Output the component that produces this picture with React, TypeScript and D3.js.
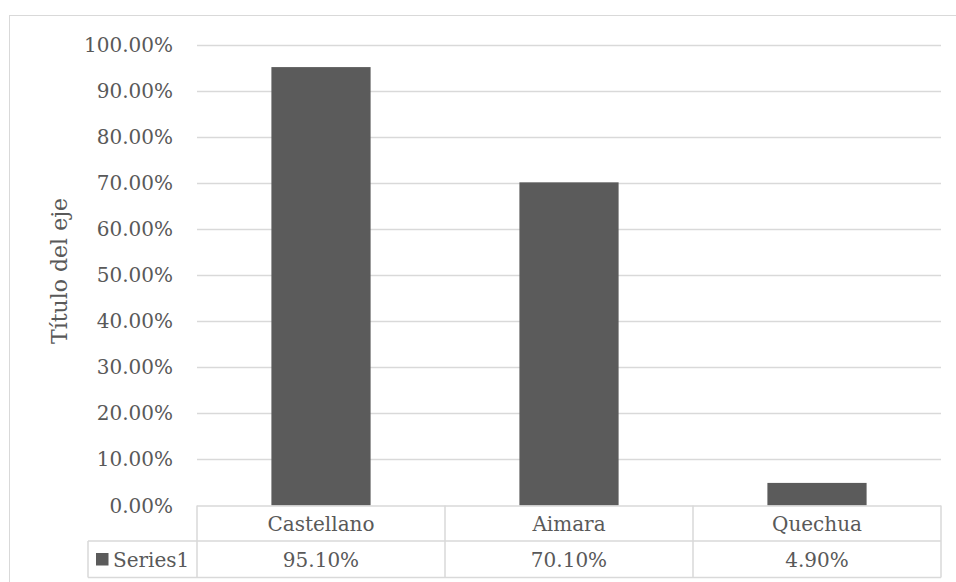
import React from "react";
import * as d3 from "d3";

const categories = ["Castellano", "Aimara", "Quechua"];
const values = [0.951, 0.701, 0.049];
const valueLabels = ["95.10%", "70.10%", "4.90%"];
const yTicks = [0, 0.1, 0.2, 0.3, 0.4, 0.5, 0.6, 0.7, 0.8, 0.9, 1.0];
const seriesName = "Series1";
const axisTitle = "Título del eje";

const W = 956;
const H = 582;
const plotLeft = 197;
const plotRight = 941;
const plotTop = 44.5;
const plotBottom = 505.5;
const row1Bottom = 541;
const row2Bottom = 577.5;
const legendLeft = 88;
const FONT = "'DejaVu Serif', serif";
const TEXT = "#595959";
const GRID = "#d9d9d9";
const BAR = "#5b5b5b";
const FS = 20;

export default function App() {
  const y = d3.scaleLinear().domain([0, 1]).range([plotBottom, plotTop]);
  const x = d3.scaleBand<string>().domain(categories).range([plotLeft, plotRight]).paddingInner(0).paddingOuter(0);
  const bw = x.bandwidth();
  const barW = bw * 0.4;
  const fmt = d3.format(".2%");

  return (
    <svg width={W} height={H} style={{ position: "absolute", left: 0, top: 0, background: "#fff" }} fontFamily={FONT}>
      <rect x={0} y={0} width={W} height={H} fill="#fff" />
      <rect x={9.5} y={15.5} width={W + 20} height={H + 20} fill="none" stroke={GRID} strokeWidth={1} />
      {yTicks.map((t) => (
        <g key={t}>
          {t > 0 && (
            <line x1={plotLeft} x2={plotRight} y1={Math.round(y(t)) + 0.5} y2={Math.round(y(t)) + 0.5} stroke={GRID} strokeWidth={1.5} />
          )}
          <text x={173} y={y(t)} textAnchor="end" dominantBaseline="central" fontSize={FS} fill={TEXT}>
            {fmt(t)}
          </text>
        </g>
      ))}
      {categories.map((c, i) => (
        <rect key={c} x={x(c)! + (bw - barW) / 2} width={barW} y={y(values[i])} height={plotBottom - y(values[i])} fill={BAR} />
      ))}
      <g stroke={GRID} strokeWidth={1.5} fill="none">
        <line x1={plotLeft} x2={plotRight} y1={plotBottom + 0.5} y2={plotBottom + 0.5} />
        <line x1={legendLeft} x2={plotRight} y1={row1Bottom} y2={row1Bottom} />
        <line x1={legendLeft} x2={plotRight} y1={row2Bottom} y2={row2Bottom} />
        <line x1={legendLeft} x2={legendLeft} y1={row1Bottom} y2={row2Bottom} />
        {[...categories.map((c) => x(c)!), plotRight].map((xx, i) => (
          <line key={i} x1={xx} x2={xx} y1={plotBottom} y2={row2Bottom} />
        ))}
      </g>
      {categories.map((c, i) => (
        <g key={c}>
          <text x={x(c)! + bw / 2} y={(plotBottom + row1Bottom) / 2 + 1} textAnchor="middle" dominantBaseline="central" fontSize={FS} fill={TEXT}>
            {c}
          </text>
          <text x={x(c)! + bw / 2} y={(row1Bottom + row2Bottom) / 2 + 1} textAnchor="middle" dominantBaseline="central" fontSize={FS} fill={TEXT}>
            {valueLabels[i]}
          </text>
        </g>
      ))}
      <rect x={96} y={553} width={12.5} height={12.5} fill={BAR} />
      <text x={113} y={(row1Bottom + row2Bottom) / 2 + 1} dominantBaseline="central" fontSize={FS} fill={TEXT}>
        {seriesName}
      </text>
      <text transform={`translate(59,${(plotTop + plotBottom) / 2 - 4}) rotate(-90)`} textAnchor="middle" dominantBaseline="central" fontSize={22} fill={TEXT}>
        {axisTitle}
      </text>
    </svg>
  );
}
